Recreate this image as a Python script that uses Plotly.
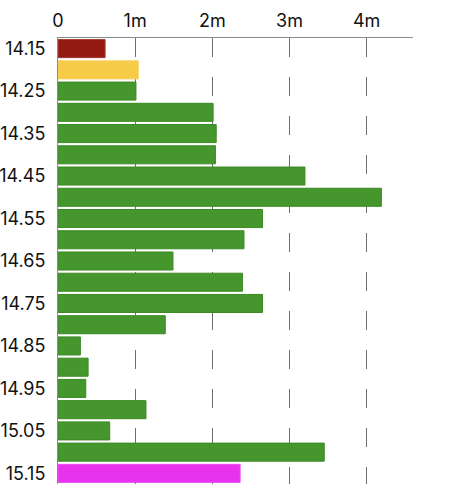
import plotly.graph_objects as go

# --- data -------------------------------------------------------------------
PRICES = ["14.15", "14.20", "14.25", "14.30", "14.35", "14.40", "14.45",
          "14.50", "14.55", "14.60", "14.65", "14.70", "14.75", "14.80",
          "14.85", "14.90", "14.95", "15.00", "15.05", "15.10", "15.15"]
VOLUME = [610_000, 1_040_000, 1_010_000, 2_010_000, 2_050_000, 2_040_000,
          3_200_000, 4_190_000, 2_650_000, 2_410_000, 1_490_000, 2_390_000,
          2_650_000, 1_390_000, 290_000, 390_000, 360_000, 1_140_000,
          670_000, 3_450_000, 2_360_000]
KIND = ["low", "open"] + ["mid"] * 18 + ["high"]
X_TICKS = [0, 1_000_000, 2_000_000, 3_000_000, 4_000_000]
X_TICK_TEXT = ["0", "1m", "2m", "3m", "4m"]

# --- style ------------------------------------------------------------------
FILL = {"low": "#921a12", "open": "#f6cb48", "mid": "#45962c", "high": "#e832ee"}
EDGE = {"low": "#a63a30", "open": "#f3d060", "mid": "#3b8a24", "high": "#ea50f0"}
GRID = "#6f6f6f"
AXIS = "#8a8a8a"
FONT = "Inter, 'Open Sans', sans-serif"

fig = go.Figure(go.Bar(
    y=PRICES, x=VOLUME, orientation="h",
    marker=dict(color=[FILL[k] for k in KIND],
                line=dict(color=[EDGE[k] for k in KIND], width=1)),
    hovertemplate="%{y}: %{x:,.0f}<extra></extra>",
))

fig.update_layout(
    width=453, height=500,
    margin=dict(l=58, r=40, t=38, b=16, autoexpand=False),
    paper_bgcolor="white", plot_bgcolor="white",
    font=dict(family=FONT, size=18, color="#111111"),
    bargap=0.15,
    showlegend=False,
)
fig.update_xaxes(
    side="top", range=[0, 4_600_000], automargin=False,
    tickvals=X_TICKS, ticktext=X_TICK_TEXT,
    showgrid=True, gridcolor=GRID, gridwidth=1, griddash="19px,20px",
    showline=True, linecolor=AXIS, linewidth=1,
    zeroline=False, ticks="", ticklabelstandoff=3,
)
fig.update_yaxes(
    type="category", categoryorder="array", categoryarray=PRICES,
    autorange="reversed", tickvals=PRICES[::2], automargin=False,
    showgrid=False, showline=True, linecolor=AXIS, linewidth=1,
    ticks="", ticklabelstandoff=8,
)

# drop the page's default body margin so the figure sits flush at the corner
fig.write_html("out.html", config={"displayModeBar": False},
               post_script="document.body.style.margin = '0';")
